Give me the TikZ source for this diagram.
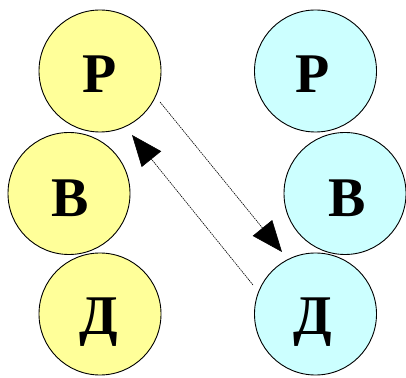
\documentclass[tikz,border=0pt]{standalone}
\usepackage{fontspec}
\setmainfont{Liberation Serif}
\usetikzlibrary{arrows.meta}
\definecolor{ylw}{RGB}{255,255,153}
\definecolor{cyn}{RGB}{204,255,255}
\begin{document}
\begin{tikzpicture}[x=1pt,y=1pt,
  ball/.style={circle,draw=black,line width=0.9pt,minimum size=122pt,inner sep=0pt},
  lbl/.style={anchor=base,inner sep=0pt,font=\fontsize{56}{60}\selectfont\bfseries},
  link/.style={line width=0.6pt,dash pattern=on 1.5pt off 0.8pt,-{Triangle[length=31pt,width=25pt]}}]
\useasboundingbox (0,0) rectangle (406,377);
% left column
\node[ball,fill=ylw] (LP) at (100,306) {};
\node[ball,fill=ylw] (LB) at (69,183.5) {};
\node[ball,fill=ylw] (LD) at (100,63) {};
% right column
\node[ball,fill=cyn] (RP) at (315.5,306) {};
\node[ball,fill=cyn] (RB) at (345,183.5) {};
\node[ball,fill=cyn] (RD) at (315.5,63) {};
% letters
\node[lbl] (tLP) at (99.5,284) {Р};
\node[lbl] (tLB) at (70,160) {В};
\node[lbl] (tLD) at (98.5,43) {Д};
\node[lbl] (tRP) at (313,284) {Р};
\node[lbl] (tRB) at (347,160) {В};
\node[lbl] (tRD) at (313,43) {Д};
% connectors
\coordinate (a1) at (160,275);
\coordinate (a2) at (282,125);
\coordinate (b1) at (253,92);
\coordinate (b2) at (132,242);
\draw[link] (a1) -- (a2);
\draw[link] (b1) -- (b2);
\end{tikzpicture}
\end{document}
